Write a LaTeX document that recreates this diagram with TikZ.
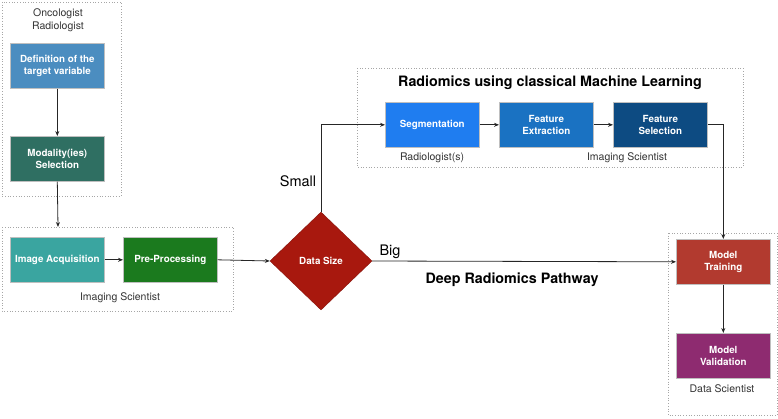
\documentclass[tikz,border=0pt]{standalone}
\usepackage{fontspec}
\setmainfont{TeX Gyre Heros}
\usetikzlibrary{shapes.geometric,arrows.meta}
\definecolor{cdef}{HTML}{4B8DC0}
\definecolor{cmod}{HTML}{2F6F62}
\definecolor{cacq}{HTML}{3AA5A0}
\definecolor{cpre}{HTML}{1B7A1E}
\definecolor{cdia}{HTML}{A8180E}
\definecolor{cseg}{HTML}{1F7DF0}
\definecolor{cext}{HTML}{1A72C2}
\definecolor{csel}{HTML}{0D4B82}
\definecolor{ctrain}{HTML}{B23A2F}
\definecolor{cval}{HTML}{8E2B70}
\begin{document}
\begin{tikzpicture}[x=1pt,y=-1pt,
  proc/.style={draw=gray!50,line width=0.6pt,minimum width=94pt,minimum height=45pt,inner sep=1pt,
    text=white,font=\fontsize{9.8}{12}\selectfont\bfseries,align=center,anchor=north west},
  group/.style={draw=gray!70,dotted,line width=0.7pt},
  lab/.style={font=\fontsize{10.5}{12.5}\selectfont,text=black!80,align=center},
  arr/.style={-{Stealth[length=5pt,width=4pt]},line width=0.8pt,draw=black!85},
  big/.style={font=\fontsize{14.5}{16}\selectfont}]
\useasboundingbox (0,0) rectangle (778,418);
% groups
\draw[group] (2,2) rectangle (121,196);
\draw[group] (2,227) rectangle (233,311);
\draw[group] (357,68) rectangle (743,167);
\draw[group] (668,233) rectangle (777,415);
% left column
\node[lab] (onc) at (58,20) {Oncologist\\Radiologist};
\node[proc,fill=cdef] (def) at (10,43) {Definition of the\\target variable};
\node[proc,fill=cmod] (mod) at (10,136) {Modality(ies)\\Selection};
\node[proc,fill=cacq] (acq) at (10,237) {Image Acquisition};
\node[proc,fill=cpre] (pre) at (123,237) {Pre-Processing};
\node[lab] (is1) at (120,298) {Imaging Scientist};
\coordinate (boxtop) at (58,227);
% diamond
\node[diamond,fill=cdia,draw=cdia!80!black,minimum width=102pt,minimum height=98pt,inner sep=0pt,
  text=white,font=\fontsize{9.8}{12}\selectfont\bfseries] (dia) at (321,261) {Data Size};
% top row
\node[font=\fontsize{14.3}{16}\selectfont\bfseries] (title) at (550,83) {Radiomics using classical Machine Learning};
\node[proc,fill=cseg] (seg) at (385,102) {Segmentation};
\node[proc,fill=cext] (ext) at (499,102) {Feature\\Extraction};
\node[proc,fill=csel] (sel) at (613,102) {Feature\\Selection};
\node[lab] (rad) at (432,158) {Radiologist(s)};
\node[lab] (is2) at (627,158) {Imaging Scientist};
% right column
\node[proc,fill=ctrain] (train) at (676,239) {Model\\Training};
\node[proc,fill=cval] (val) at (676,333) {Model\\Validation};
\node[lab] (ds) at (722,389) {Data Scientist};
% labels
\node[big] (small) at (298,181) {Small};
\node[big] (big) at (390,252) {Big};
\node[big,font=\fontsize{14.3}{16}\selectfont\bfseries] (deep) at (512,280) {Deep Radiomics Pathway};
% connectors
\draw[arr] (def.south) -- (mod.north);
\draw[arr] (mod.south) -- (boxtop);
\draw[arr] (acq.east) -- (pre.west);
\draw[arr] (pre.east) -- (dia.west);
\draw[arr] (dia.north) |- (seg.west);
\draw[arr] (seg.east) -- (ext.west);
\draw[arr] (ext.east) -- (sel.west);
\draw[arr] (sel.east) -| (train.north);
\draw[arr] (dia.east) -- (train.west);
\draw[arr] (train.south) -- (val.north);
\end{tikzpicture}
\end{document}
